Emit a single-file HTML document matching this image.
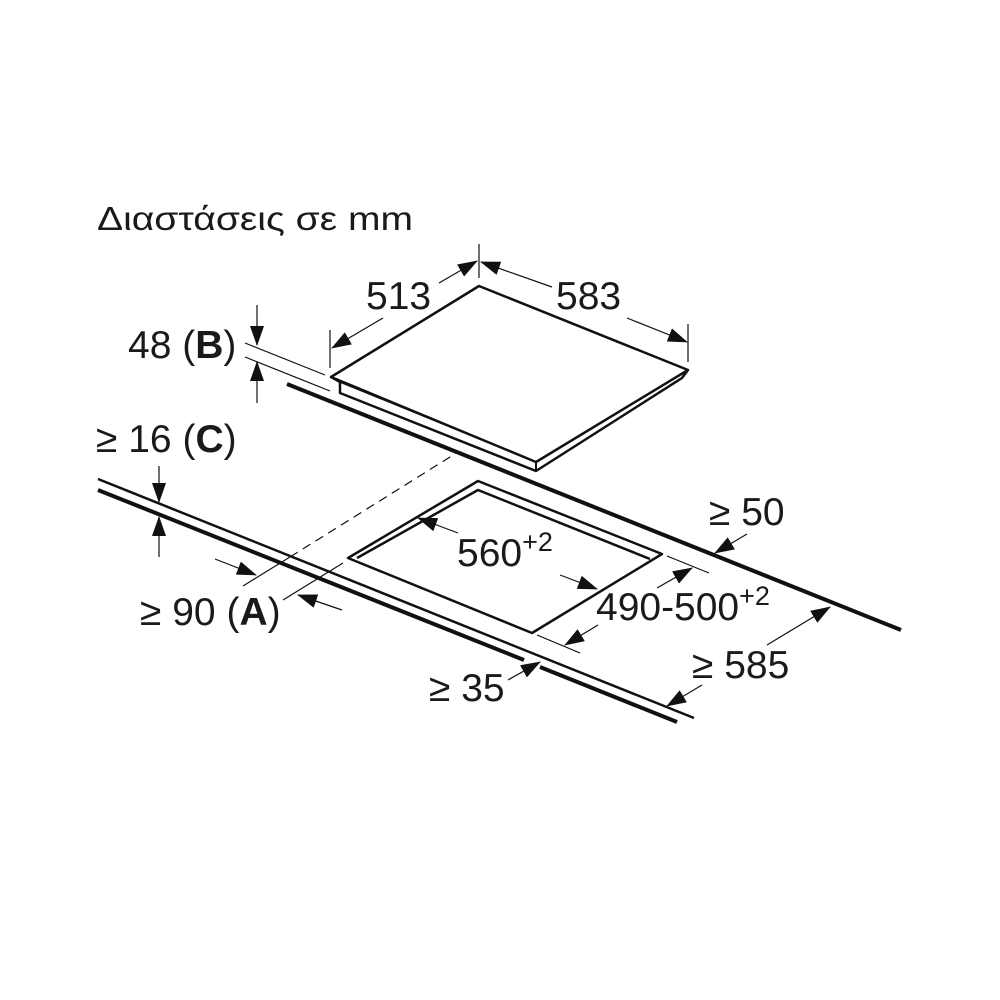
<!DOCTYPE html>
<html><head><meta charset="utf-8"><style>
html,body{margin:0;padding:0;background:#fff}
svg{display:block}
text{font-family:"Liberation Sans",Arial,sans-serif;fill:#1a1a1a}
</style></head><body>
<svg width="1000" height="1000" viewBox="0 0 1000 1000" xmlns="http://www.w3.org/2000/svg">
<defs>
<marker id="a" markerWidth="20" markerHeight="14" refX="19" refY="7" orient="auto" markerUnits="userSpaceOnUse">
<path d="M0,0 L20,7 L0,14 Z" fill="#111"/>
</marker>
</defs>
<g stroke="#111" fill="none" stroke-linejoin="round">
<line x1="287" y1="384" x2="901" y2="630" stroke-width="4"/>
<line x1="98" y1="479" x2="694" y2="718" stroke-width="2.5"/>
<line x1="98" y1="490" x2="524" y2="660" stroke-width="4"/>
<line x1="540" y1="667" x2="677" y2="722" stroke-width="4"/>
<path d="M479,286 L331,377 L340,382 L340,393 L536,471 L682,378 L688,370 Z" stroke-width="2.5" fill="#fff"/>
<path d="M331,377 L536,462 L688,370" stroke-width="2.5"/>
<line x1="536" y1="462" x2="536" y2="471" stroke-width="2"/>
<line x1="340" y1="382" x2="536" y2="462" stroke-width="1.5"/>
<path d="M348,558 L478,481 L662,554 L532,633 Z" stroke-width="2.5"/>
<path d="M357,558 L478,490 L650,559" stroke-width="2.5"/>
<line x1="290" y1="557" x2="458" y2="452" stroke-width="1.2" stroke-dasharray="9,6"/>
<line x1="243" y1="586" x2="290" y2="557" stroke-width="1.2"/>
<line x1="283" y1="600" x2="343" y2="563" stroke-width="1.2"/>
<line x1="245" y1="343" x2="325" y2="375" stroke-width="1.2"/>
<line x1="245" y1="357" x2="330" y2="391" stroke-width="1.2"/>
<line x1="330" y1="330" x2="330" y2="368" stroke-width="1.2"/>
<line x1="479" y1="244" x2="479" y2="278" stroke-width="1.2"/>
<line x1="688" y1="324" x2="688" y2="362" stroke-width="1.2"/>
<line x1="667" y1="556" x2="709" y2="573" stroke-width="1.2"/>
<line x1="537" y1="635" x2="580" y2="653" stroke-width="1.2"/>
<g stroke-width="1.2" marker-end="url(#a)">
<line x1="257" y1="305" x2="257" y2="345"/>
<line x1="257" y1="403" x2="257" y2="362"/>
<line x1="159" y1="466" x2="159" y2="502"/>
<line x1="159" y1="557" x2="159" y2="517"/>
<line x1="383" y1="318" x2="332" y2="348"/>
<line x1="439" y1="283" x2="477" y2="261"/>
<line x1="552" y1="287" x2="481" y2="262"/>
<line x1="627" y1="318" x2="687" y2="342"/>
<line x1="215" y1="559" x2="256" y2="575"/>
<line x1="342" y1="610" x2="298" y2="595"/>
<line x1="458" y1="533" x2="418" y2="518"/>
<line x1="560" y1="575" x2="597" y2="589"/>
<line x1="657" y1="588" x2="692" y2="568"/>
<line x1="598" y1="625" x2="565" y2="645"/>
<line x1="747" y1="534" x2="715" y2="553"/>
<line x1="767" y1="645" x2="830" y2="607"/>
<line x1="702" y1="685" x2="667" y2="706"/>
<line x1="508" y1="680" x2="540" y2="662"/>
</g>
</g>
<g font-size="39">
<text x="97" y="230" font-size="33" textLength="316" lengthAdjust="spacingAndGlyphs">Διαστάσεις σε mm</text>
<text x="366" y="309">513</text>
<text x="556" y="309">583</text>
<text x="128" y="358">48 (<tspan font-weight="bold">B</tspan>)</text>
<text x="96" y="452">≥ 16 (<tspan font-weight="bold">C</tspan>)</text>
<text x="140" y="625">≥ 90 (<tspan font-weight="bold">A</tspan>)</text>
<text x="457" y="566">560<tspan font-size="27" dy="-15">+2</tspan></text>
<text x="596" y="620">490-500<tspan font-size="27" dy="-15">+2</tspan></text>
<text x="709" y="525">≥ 50</text>
<text x="692" y="678">≥ 585</text>
<text x="429" y="701">≥ 35</text>
</g>
</svg>
</body></html>
